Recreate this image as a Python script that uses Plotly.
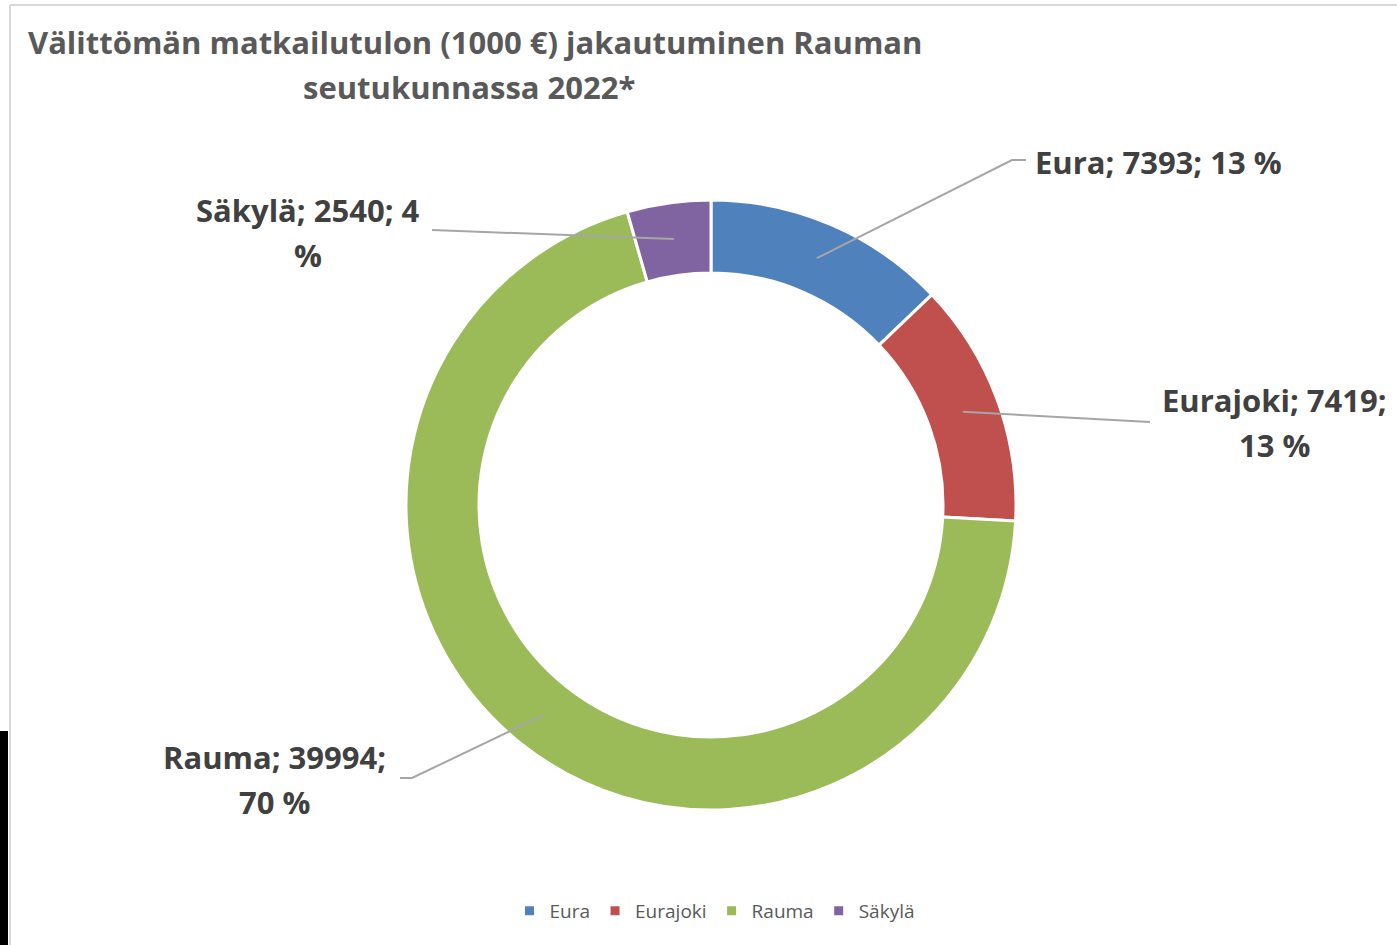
import math
import plotly.graph_objects as go

# Direct tourism income (1000 €) by municipality
municipalities = ["Eura", "Eurajoki", "Rauma", "Säkylä"]
income = [7393, 7419, 39994, 2540]
colors = ["#4F81BD", "#C0504D", "#9BBB59", "#8064A2"]

title_lines = ["Välittömän matkailutulon (1000 €) jakautuminen Rauman",
               "seutukunnassa 2022*"]

W, H = 1397, 945
CX, CY = 711, 505          # donut centre (px)
R_OUT, R_IN = 305, 232     # outer / inner radius (px)
HOLE = R_IN / R_OUT


def px(x):
    return x / W


def py(y):
    return 1 - y / H


total = sum(income)
pcts = [round(v / total * 100) for v in income]

# label layout: text x, first line centre y, leader elbow points
label_layout = {
    "Eura": dict(x=1033, y=162, elbow=[(1012, 160), (1026, 160)]),
    "Eurajoki": dict(x=1274, y=400, elbow=[(1150, 422)]),
    "Rauma": dict(x=274, y=757, elbow=[(412, 778), (400, 778)]),
    "Säkylä": dict(x=308, y=210, elbow=[(432, 230)]),
}
line_split = {
    "Eura": ["{n}; {v}; {p} %"],
    "Eurajoki": ["{n}; {v};", "{p} %"],
    "Rauma": ["{n}; {v};", "{p} %"],
    "Säkylä": ["{n}; {v}; {p}", "%"],
}

fig = go.Figure()
fig.add_trace(go.Pie(
    labels=municipalities,
    values=income,
    hole=HOLE,
    sort=False,
    direction="clockwise",
    rotation=0,
    marker=dict(colors=colors, line=dict(color="white", width=3)),
    textinfo="none",
    hoverinfo="label+value+percent",
    domain=dict(x=[px(CX - R_OUT), px(CX + R_OUT)], y=[py(CY + R_OUT), py(CY - R_OUT)]),
))

shapes = []
annotations = []
label_color = "#404040"
font_family = "Open Sans, Liberation Sans, sans-serif"
FS = 31

cum = 0
r_mid = (R_OUT + R_IN) / 2
for name, val, pct in zip(municipalities, income, pcts):
    mid = (cum + val / 2) / total * 2 * math.pi
    cum += val
    ax = CX + r_mid * math.sin(mid)
    ay = CY - r_mid * math.cos(mid)
    lay = label_layout[name]
    pts = [(ax, ay)] + lay["elbow"]
    path = "M {} {}".format(px(pts[0][0]), py(pts[0][1]))
    for (x, y) in pts[1:]:
        path += " L {} {}".format(px(x), py(y))
    shapes.append(dict(type="path", xref="paper", yref="paper", path=path,
                       line=dict(color="#A6A6A6", width=2)))
    for i, tmpl in enumerate(line_split[name]):
        txt = tmpl.format(n=name, v=val, p=pct)
        anchor = "left" if name == "Eura" else "center"
        annotations.append(dict(x=px(lay["x"]), y=py(lay["y"] + 45 * i), xref="paper", yref="paper",
                                text="<b>" + txt + "</b>", showarrow=False,
                                xanchor=anchor, yanchor="middle",
                                font=dict(size=FS, color=label_color, family=font_family)))

# title
for i, (t, cx) in enumerate(zip(title_lines, [475, 469])):
    annotations.append(dict(x=px(cx), y=py(42 + 45 * i), xref="paper", yref="paper",
                            text="<b>" + t + "</b>", showarrow=False,
                            xanchor="center", yanchor="middle",
                            font=dict(size=FS, color="#595959", family=font_family)))

# chart area frame and the dark strip at lower left
shapes.append(dict(type="line", xref="paper", yref="paper", x0=px(10), x1=1, y0=py(5), y1=py(5),
                   line=dict(color="#D9D9D9", width=2)))
shapes.append(dict(type="line", xref="paper", yref="paper", x0=px(10), x1=px(10), y0=py(5), y1=0,
                   line=dict(color="#D9D9D9", width=2)))
shapes.append(dict(type="rect", xref="paper", yref="paper", x0=0, x1=px(8), y0=0, y1=py(731),
                   fillcolor="black", line=dict(width=0)))

fig.update_layout(
    width=W, height=H,
    margin=dict(l=0, r=0, t=0, b=0),
    paper_bgcolor="white",
    plot_bgcolor="white",
    shapes=shapes,
    annotations=annotations,
    showlegend=True,
    legend=dict(orientation="h", x=px(715), y=py(911), xanchor="center", yanchor="middle",
                font=dict(size=19, color="#595959", family=font_family),
                itemwidth=30, traceorder="normal"),
)

fig.write_html("out.html")
